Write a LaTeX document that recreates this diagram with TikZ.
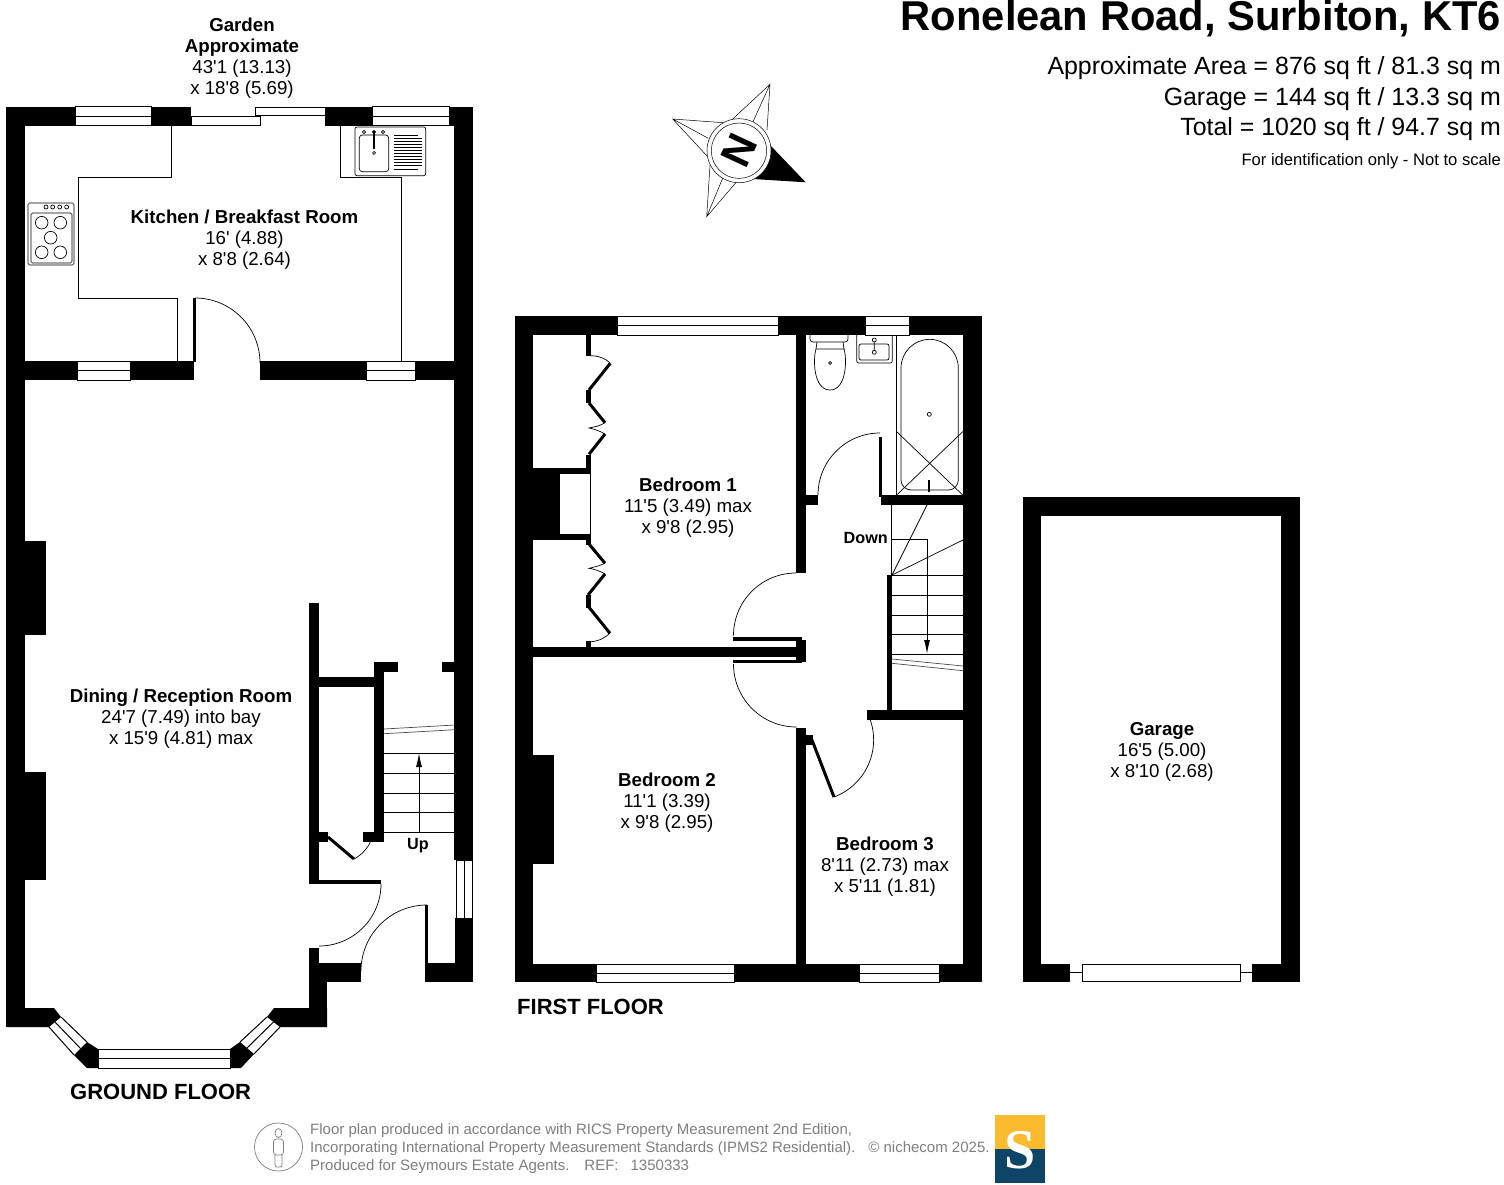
\documentclass[tikz,border=0pt]{standalone}
\usepackage{fontspec}
\usetikzlibrary{arrows.meta,positioning}
\newfontfamily\planfont{Liberation Sans}
\newfontfamily\logofont{Liberation Serif}
\definecolor{footgray}{HTML}{7F7F7F}
\definecolor{logoyellow}{HTML}{FBBB2E}
\definecolor{logonavy}{HTML}{0E4465}
\tikzset{
  solid wall/.style={fill=black},
  thinline/.style={draw=black, line width=.7pt},
  planline/.style={draw=black, line width=1pt},
  doorleaf/.style={draw=black, line width=3pt},
  winframe/.style={draw=black, fill=white, line width=1pt},
  textbase/.style={inner sep=0pt, align=center, font=\planfont\fontsize{18.7}{21}\selectfont},
  roomlabel/.style={textbase},
  floorlabel/.style={textbase, font=\planfont\bfseries\fontsize{22}{26}\selectfont},
  smalllabel/.style={textbase, font=\planfont\bfseries\fontsize{16.2}{18}\selectfont},
  arealabel/.style={textbase, align=right, anchor=east, font=\planfont\fontsize{24.9}{30}\selectfont},
  footlabel/.style={textbase, align=left, anchor=west, text=footgray, font=\planfont\fontsize{15}{18}\selectfont},
  stairhead/.style={-{Latex[length=14pt,width=6pt]}, line width=1pt},
}
\begin{document}
\begin{tikzpicture}[x=1pt, y=-1pt]
  \useasboundingbox (0,0) rectangle (1504,1185);
  \fill[white] (0,0) rectangle (1504,1185);

  % walls as rectangles: left, top, right, bottom
  \foreach \xa/\ya/\xb/\yb in {6/107/25/1027, 454/107/473/860, 455/918/473/982, 6/107/75/126, 151/107/191/126,
      325/107/372/126, 449/107/473/126, 25/361/77/380, 130/361/194/380, 260/361/366/380, 415/361/454/380,
      193/298/196/362, 25/541/46/635, 25/772/46/880, 309/603/319/882, 319/677/375/687, 374/662/384/842,
      374/662/398/672, 442/662/454/672, 319/832/328/842, 363/832/374/842, 309/880/381/884,
      309/948/319/964, 309/963/327/1027, 319/963/361/982, 425/905/428/964, 425/963/473/982,
      515/316/533/982, 515/316/617/335, 778/316/865/335, 909/316/982/335, 963/316/982/982,
      515/964/596/982, 734/964/859/982, 939/964/982/982, 796/335/806/573, 806/495/818/505, 879/437/882/497,
      881/495/963/505, 887/575/892/711, 867/710/963/720, 533/647/796/657, 796/640/806/662, 733/637/802/641,
      733/660/802/663, 796/728/806/964, 806/735/813/745, 533/755/554/864, 586/335/591/356, 586/390/591/403,
      586/455/591/468, 533/468/591/474, 533/468/560/540, 533/534/591/540, 586/540/591/545, 586/595/591/608,
      586/641/591/647, 1023/497/1300/516, 1023/497/1041/982, 1281/497/1300/982, 1023/964/1070/982,
      1252/964/1300/982}
    \fill[solid wall] (\xa,\ya) rectangle (\xb,\yb);

  \fill[solid wall] (6,1008) -- (54,1008) -- (61,1017) -- (49,1027) -- (6,1027) -- cycle;
  \fill[solid wall] (327,1008) -- (274,1008) -- (267,1017) -- (280,1027) -- (327,1027) -- cycle;
  \fill[solid wall] (74,1055) -- (87,1068) -- (98,1068) -- (98,1049) -- (87,1042) -- cycle;
  \fill[solid wall] (254,1054) -- (241,1068) -- (230,1068) -- (230,1049) -- (240,1042) -- cycle;

  % windows with a middle line
  \foreach \xa/\xb/\ya/\yb in {75/151/107/126, 372/449/107/126, 77/130/361/380, 366/415/361/380, 98/230/1049/1068,
      617/778/316/335, 865/909/316/335, 596/734/964/982, 859/939/964/982}{
    \draw[winframe] (\xa,\ya) rectangle (\xb,\yb);
    \draw[planline] (\xa,{(\ya+\yb)/2}) -- (\xb,{(\ya+\yb)/2});
  }
  \draw[winframe] (456,860) rectangle (472.5,918);
  \draw[planline] (464.5,860) -- (464.5,918);
  \draw[winframe] (191,116.5) rectangle (260,126);
  \draw[winframe] (255,107.5) rectangle (325,115.5);
  \draw[winframe] (1082,964) rectangle (1240,981.5);
  \draw[planline] (1070,972.5) -- (1082,972.5) (1240,972.5) -- (1252,972.5);
  \draw[planline] (49,1027) -- (74,1055) (61,1017) -- (87,1042) (55,1022) -- (80.5,1048.5);
  \draw[planline] (280,1027) -- (254,1054) (267,1017) -- (240,1042) (273.5,1022) -- (247,1048);

  % kitchen
  \draw[planline] (171,126) -- (171,178) -- (78,178) -- (78,298) -- (177,298) -- (177,361);
  \draw[planline] (340,126) -- (340,178) -- (401.5,178) -- (401.5,361);
  \draw[thinline] (195,298) arc[start angle=90, end angle=0, radius=65pt];
  \draw[thinline, rounded corners=1.5pt] (28,203) rectangle (74,265);
  \draw[thinline, rounded corners=1.5pt] (31,213) rectangle (72,263);
  \foreach \cx/\cy in {41.7/222.7, 60.3/222.7, 50.7/237.7, 41.7/252.3, 60.3/252.3}
    \draw[thinline] (\cx,\cy) circle[radius=6.3pt];
  \foreach \cx in {46, 52.7, 59.7, 66.7}
    \draw[thinline] (\cx,207) circle[radius=2pt];
  \draw[thinline, rounded corners=2pt] (355,127) rectangle (425.7,175.7);
  \draw[thinline, rounded corners=3pt] (359.3,135) rectangle (388.7,171.7);
  \draw[line width=2.2pt] (374,131) -- (374,149);
  \draw[thinline] (374,153) circle[radius=1.5pt];
  \foreach \cx in {364, 374, 383}
    \draw[thinline] (\cx,132) circle[radius=1.6pt];
  \foreach \yy/\xe in {135.5/418, 138.5/421.5, 141.5/421.5, 144.5/421.5, 147.5/421.5, 150.5/421.5, 153.5/421.5,
      156.5/421.5, 159.5/421.5, 162.5/421.5, 165.5/421.5, 169.5/418}
    \draw[line width=1.5pt] (394,\yy) -- (\xe,\yy);

  % hall and understairs
  \draw[doorleaf] (328,837) -- (354,859);
  \draw[thinline] (354,859) arc[start angle=-62, end angle=-25, radius=38pt] coordinate (cupboardend);
  \draw[thinline] (381,884) arc[start angle=0, end angle=-90, radius=62pt];
  \draw[thinline] (427,905) arc[start angle=90, end angle=180, radius=66pt];
  \foreach \yy in {753, 773, 793, 812, 832}
    \draw[planline] (384,\yy) -- (455,\yy);
  \draw[thinline, draw=black!70] (384,729) -- (455,725) (384,733.7) -- (455,729.7);
  \draw[stairhead] (419,832) -- (419,753);

  % first floor wardrobes
  \foreach \xa/\ya/\xb/\yb in {610.3/363.3/589/390, 589/403/605/422.7, 605/434/589/454.3, 589/544/605/563.3,
      605/574/588/595, 589/607.3/610/633.3}
    \draw[doorleaf] (\xa,\ya) -- (\xb,\yb);
  \draw[thinline] (591,355.7) .. controls (600,356) and (606,359) .. (610,363);
  \draw[thinline] (605,422.7) .. controls (600,426) and (594,427) .. (589,428) .. controls (594,429) and (600,431) .. (605,434);
  \draw[thinline] (605,563) .. controls (600,566) and (594,567) .. (589,568.3) .. controls (594,569) and (600,571) .. (605,574);
  \draw[thinline] (610,633) .. controls (606,637) and (600,641) .. (591,641.7);
  \draw[thinline] (590.5,474) -- (590.5,534);

  % first floor doors and stairs
  \draw[thinline] (796,573) arc[start angle=90, end angle=180, radius=62.5pt];
  \draw[thinline] (733.5,664) arc[start angle=180, end angle=270, radius=63pt];
  \draw[thinline] (818,495) arc[start angle=180, end angle=90, radius=62pt];
  \draw[doorleaf] (812,740) -- (834,797);
  \draw[thinline] (834,797) arc[start angle=-69.5, end angle=25.3, radius=61pt];
  \draw[planline] (891.5,505) -- (891.5,575);
  \foreach \yy in {575, 595, 615, 634, 654}
    \draw[planline] (892,\yy) -- (963,\yy);
  \draw[thinline] (892,575) -- (927,505) (892,575) -- (963,540);
  \draw[thinline, draw=black!70] (892,659) -- (963,666) (892,663.3) -- (963,670.7);
  \draw[stairhead] (892,539) -- (927,539) -- (927,654);

  % bathroom
  \draw[thinline, rounded corners=3pt] (810,335) -- (810,342) -- (848,342) -- (848,335);
  \draw[thinline] (817,342) -- (816,349) (843,342) -- (844,349);
  \draw[thinline] (816,349) -- (844,349) .. controls (847,358) and (847,390) .. (830,390) .. controls (813,390) and (813,358) .. (816,349);
  \draw[thinline] (830,363) circle[radius=1.5pt];
  \draw[thinline, rounded corners=2pt] (856.7,335) -- (856.7,363) -- (892.3,363) -- (892.3,335);
  \draw[thinline, rounded corners=2pt] (859,344) rectangle (889,360);
  \draw[thinline] (874.3,340) circle[radius=2pt] (874.3,352.3) circle[radius=2pt] (874.3,342) -- (874.3,350);
  \draw[planline] (896.7,335) -- (896.7,495);
  \draw[thinline] (901,368) arc[start angle=180, end angle=0, radius=28.65pt] -- (958.3,480)
    arc[start angle=0, end angle=-90, radius=10pt] -- (911,490) arc[start angle=270, end angle=180, radius=10pt] -- cycle;
  \draw[thinline] (929.3,414.3) circle[radius=2pt];
  \draw[thinline] (896.7,431.7) -- (962.7,495) (896.7,495) -- (962.7,431.7);
  \draw[line width=1.8pt] (929.3,480) -- (929.3,492);

  % compass
  \draw[thinline, line width=.5pt] (732.7,119) -- (770,84.3) -- (767,130) (770,84.3) -- (752.7,122.3);
  \draw[thinline, line width=.5pt] (723.3,122.7) -- (672.7,119) -- (707.7,156.7) (672.7,119) -- (708.3,138.3);
  \draw[thinline, line width=.5pt] (710,165) -- (706.7,216.7) -- (736.7,181.7) (706.7,216.7) -- (723.3,176.7);
  \fill[black] (770,145) -- (805.7,182.3) -- (753,179) -- cycle;
  \fill[white] (739,150.7) circle[radius=32pt];
  \draw[thinline, line width=.5pt] (739,150.7) circle[radius=32pt] (739,150.7) circle[radius=27.7pt];
  \node[textbase, rotate=-115, font=\planfont\bfseries\fontsize{42}{42}\selectfont] (northmark) at (739,150.7) {N};

  % labels
  \node[textbase, anchor=east, font=\planfont\bfseries\fontsize{41.7}{44}\selectfont] (title) at (1501,19) {Ronelean Road, Surbiton, KT6};
  \node[arealabel] (arealine) at (1501,68) {Approximate Area = 876 sq ft / 81.3 sq m};
  \node[arealabel] (garageline) at (1501,99) {Garage = 144 sq ft / 13.3 sq m};
  \node[arealabel] (totalline) at (1501,129) {Total = 1020 sq ft / 94.7 sq m};
  \node[arealabel, font=\planfont\fontsize{16.6}{18}\selectfont] (scalenote) at (1501,161) {For identification only - Not to scale};
  \node[roomlabel] (gardenlabel) at (242,58.5) {\textbf{Garden}\\\textbf{Approximate}\\43'1 (13.13)\\x 18'8 (5.69)};
  \node[roomlabel] (kitchenlabel) at (244.5,240) {\textbf{Kitchen / Breakfast Room}\\16' (4.88)\\x 8'8 (2.64)};
  \node[roomlabel] (dininglabel) at (181,719) {\textbf{Dining / Reception Room}\\24'7 (7.49) into bay\\x 15'9 (4.81) max};
  \node[roomlabel] (bedonelabel) at (688,507.5) {\textbf{Bedroom 1}\\11'5 (3.49) max\\x 9'8 (2.95)};
  \node[roomlabel] (bedtwolabel) at (667,803) {\textbf{Bedroom 2}\\11'1 (3.39)\\x 9'8 (2.95)};
  \node[roomlabel] (bedthreelabel) at (885,867) {\textbf{Bedroom 3}\\8'11 (2.73) max\\x 5'11 (1.81)};
  \node[roomlabel] (garagelabel) at (1162,752) {\textbf{Garage}\\16'5 (5.00)\\x 8'10 (2.68)};
  \node[smalllabel] (uplabel) at (418,845.5) {Up};
  \node[smalllabel, anchor=east] (downlabel) at (888,538.5) {Down};
  \node[floorlabel, anchor=west] (groundlabel) at (70,1091.5) {GROUND FLOOR};
  \node[floorlabel, anchor=west] (firstlabel) at (517,1006.5) {FIRST FLOOR};

  % footer
  \draw[draw=footgray, line width=.7pt] (278.5,1147) circle[radius=24pt];
  \draw[draw=footgray, line width=.7pt] (278.5,1133) ellipse[x radius=3.5pt, y radius=4.5pt];
  \draw[draw=footgray, line width=.7pt, rounded corners=3pt] (273.5,1139) rectangle (283.5,1155);
  \draw[draw=footgray, line width=.7pt, rounded corners=2pt] (275,1155) -- (275,1167) -- (282,1167) -- (282,1155);
  \node[footlabel] (footone) at (310,1131) {Floor plan produced in accordance with RICS Property Measurement 2nd Edition,};
  \node[footlabel] (foottwo) at (310,1149) {Incorporating International Property Measurement Standards (IPMS2 Residential).\hspace{13pt}© nichecom 2025.};
  \node[footlabel] (footthree) at (310,1167) {Produced for Seymours Estate Agents.\hspace{15pt}REF:\hspace{12pt}1350333};
  \fill[logoyellow] (995,1115) rectangle (1045,1149);
  \fill[logonavy] (995,1149) rectangle (1045,1183);
  \node[inner sep=0pt, text=white, font=\logofont\bfseries\fontsize{56}{56}\selectfont] (logoletter) at (1020,1150) {S};
\end{tikzpicture}
\end{document}
